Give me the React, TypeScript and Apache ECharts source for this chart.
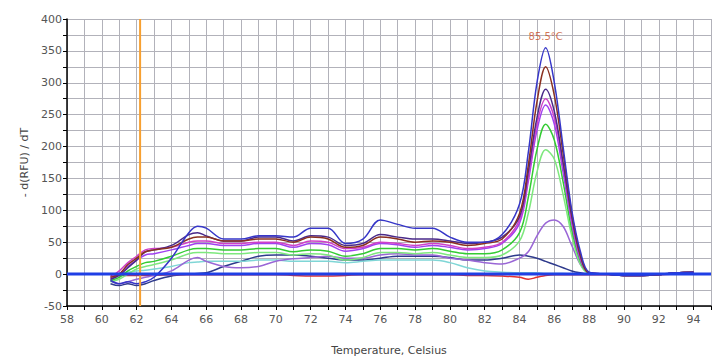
import React, { useEffect, useRef } from "react";
import * as echarts from "echarts";

// Temperatures (°C) at which each melt curve is sampled
const temps = [60.5, 61, 61.5, 62, 62.5, 63, 64, 65, 65.5, 66, 67, 68, 69, 70, 71, 72, 73, 74, 75, 76, 77, 78, 79, 80, 81, 82, 83, 84, 84.5, 85, 85.5, 86, 86.5, 87, 87.5, 88, 89, 90, 91, 92, 93, 94];

const curveBlue = [-10, -15, -12, -15, -12, -5, 25, 65, 75, 72, 55, 55, 60, 60, 58, 72, 72, 48, 55, 85, 78, 72, 72, 58, 50, 50, 62, 110, 190, 300, 355, 300, 200, 100, 35, 3, 0, -2, -2, 0, 2, 3];
const curveBrown = [-5, 0, 15, 25, 35, 38, 42, 55, 58, 58, 52, 52, 55, 55, 50, 58, 55, 42, 45, 58, 55, 50, 52, 50, 45, 48, 55, 95, 170, 270, 325, 280, 190, 95, 30, 2, 0, -2, -2, -1, 2, 3];
const curveDarkPurple = [-8, -2, 10, 22, 35, 38, 45, 62, 65, 60, 52, 52, 58, 58, 52, 60, 58, 45, 48, 62, 58, 55, 55, 52, 48, 50, 58, 90, 160, 245, 290, 255, 175, 90, 28, 2, 0, -2, -2, -1, 2, 3];
const curveMagenta = [-5, 5, 18, 28, 38, 40, 42, 50, 52, 52, 48, 48, 50, 50, 45, 52, 50, 40, 42, 50, 48, 45, 48, 45, 40, 42, 50, 85, 150, 235, 275, 245, 170, 85, 25, 2, 0, -2, -2, -1, 2, 3];
const curveViolet = [-8, 0, 12, 22, 30, 32, 38, 45, 48, 48, 45, 45, 48, 48, 42, 48, 46, 36, 40, 48, 46, 42, 45, 42, 38, 40, 48, 80, 145, 225, 265, 235, 160, 80, 22, 2, 0, -2, -2, -1, 2, 3];
const curveGreen = [-10, -5, 5, 12, 18, 20, 28, 38, 40, 40, 38, 38, 40, 40, 35, 38, 36, 28, 32, 40, 40, 38, 40, 36, 32, 32, 38, 65, 120, 195, 235, 210, 145, 70, 20, 2, 0, -2, -2, -1, 2, 3];
const curveLightGreen = [-12, -8, 0, 8, 12, 15, 22, 32, 34, 34, 32, 32, 34, 34, 30, 32, 30, 22, 26, 34, 34, 32, 34, 30, 26, 26, 30, 52, 95, 160, 195, 180, 125, 60, 15, 1, 0, -2, -2, -1, 2, 3];
const curveLavender = [-10, -15, -12, -8, -5, -2, 5, 22, 26, 20, 12, 10, 12, 20, 24, 26, 28, 25, 25, 30, 32, 30, 30, 25, 22, 18, 16, 25, 35, 60, 80, 85, 75, 45, 15, 2, 0, -2, -2, -1, 2, 3];
const curveNavy = [-15, -18, -15, -18, -15, -10, -3, 0, 1, 2, 12, 20, 28, 30, 30, 28, 25, 22, 22, 25, 28, 28, 28, 26, 22, 22, 25, 30, 28, 25, 20, 15, 10, 5, 2, 0, 0, -2, -2, -1, 2, 3];
const curveCyan = [-5, 0, 3, 5, 6, 8, 12, 18, 19, 20, 20, 20, 22, 22, 20, 20, 20, 18, 20, 22, 22, 22, 22, 18, 10, 5, 3, 2, 2, 2, 1, 1, 1, 0, 0, 0, 0, -1, -1, 0, 1, 1];
const curveRed = [-2, -2, -2, -2, -2, -2, -1, -1, -1, -1, -1, -1, -1, -1, -2, -3, -3, -2, -1, -1, -1, -1, -1, -1, -2, -2, -3, -5, -8, -5, -2, -1, -1, -1, -1, -1, -1, -2, -2, -1, 0, 0];

const xTicks = { min: 58, max: 95, step: 1 };
const yTicks = { min: -50, max: 400, step: 25 };
const thresholdValue = 0;
const cursorTemp = 62.2;
const peakLabel = "85.5°C";
const peakLabelPos = [85.5, 372];

const curves: { name: string; color: string; values: number[] }[] = [
  { name: "navy", color: "#2e3a8c", values: curveNavy },
  { name: "cyan", color: "#7fd6d6", values: curveCyan },
  { name: "red", color: "#e03030", values: curveRed },
  { name: "lavender", color: "#9a66d6", values: curveLavender },
  { name: "lightgreen", color: "#7ee87e", values: curveLightGreen },
  { name: "green", color: "#33cc33", values: curveGreen },
  { name: "violet", color: "#a040f0", values: curveViolet },
  { name: "magenta", color: "#d040c8", values: curveMagenta },
  { name: "darkpurple", color: "#4a2a8a", values: curveDarkPurple },
  { name: "brown", color: "#8a3020", values: curveBrown },
  { name: "blue", color: "#3636c8", values: curveBlue },
];

export default function App() {
  const ref = useRef<HTMLDivElement>(null);
  useEffect(() => {
    if (!ref.current) return;
    const chart = echarts.init(ref.current, undefined, { renderer: "svg" });
    const font = "DejaVu Sans";
    const series: any[] = curves.map((c) => ({
      type: "line",
      name: c.name,
      data: temps.map((t, i) => [t, c.values[i]]),
      showSymbol: false,
      smooth: 0.35,
      lineStyle: { color: c.color, width: 1.5 },
      z: 3,
    }));
    series.push({
      type: "line",
      name: "threshold",
      data: [
        [xTicks.min, thresholdValue],
        [xTicks.max, thresholdValue],
      ],
      showSymbol: false,
      lineStyle: { color: "#1f3fe6", width: 3 },
      z: 5,
    });
    series.push({
      type: "line",
      name: "cursor",
      data: [
        [cursorTemp, yTicks.min],
        [cursorTemp, yTicks.max],
      ],
      showSymbol: false,
      lineStyle: { color: "#f7a030", width: 2 },
      z: 4,
    });
    series.push({
      type: "scatter",
      name: "peak",
      data: [peakLabelPos],
      symbolSize: 0,
      label: {
        show: true,
        position: "inside",
        formatter: peakLabel,
        color: "#c8502a",
        fontFamily: font,
        fontSize: 10,
      },
      z: 6,
    });
    chart.setOption({
      animation: false,
      backgroundColor: "#ffffff",
      grid: { left: 67, right: 1, top: 19, bottom: 53 },
      xAxis: {
        type: "value",
        min: xTicks.min,
        max: xTicks.max,
        interval: xTicks.step,
        name: "Temperature, Celsius",
        nameLocation: "middle",
        nameGap: 39,
        nameTextStyle: { color: "#444", fontFamily: font, fontSize: 11 },
        axisLine: { show: true, onZero: false, lineStyle: { color: "#000", width: 1.5 } },
        axisTick: { show: true, length: 4, lineStyle: { color: "#000" } },
        axisLabel: {
          color: "#555",
          fontFamily: font,
          fontSize: 11,
          margin: 8,
          formatter: (v: number) => (v % 2 === 0 && v <= 94 ? String(v) : ""),
        },
        splitLine: { show: true, lineStyle: { color: "#b2b2ba", width: 1 } },
      },
      yAxis: {
        type: "value",
        min: yTicks.min,
        max: yTicks.max,
        interval: yTicks.step,
        name: "- d(RFU) / dT",
        nameLocation: "middle",
        nameGap: 33,
        nameRotate: 90,
        nameTextStyle: { color: "#444", fontFamily: font, fontSize: 11 },
        axisLine: { show: true, onZero: false, lineStyle: { color: "#000", width: 1.5 } },
        axisTick: { show: true, length: 4, lineStyle: { color: "#000" } },
        axisLabel: {
          color: "#555",
          fontFamily: font,
          fontSize: 11,
          margin: 5,
          formatter: (v: number) => (v % 50 === 0 ? String(v) : ""),
        },
        splitLine: { show: true, lineStyle: { color: "#b2b2ba", width: 1 } },
      },
      series,
    });
    return () => chart.dispose();
  }, []);
  return (
    <div
      ref={ref}
      style={{ position: "absolute", left: 0, top: 0, width: 714, height: 361 }}
    />
  );
}
